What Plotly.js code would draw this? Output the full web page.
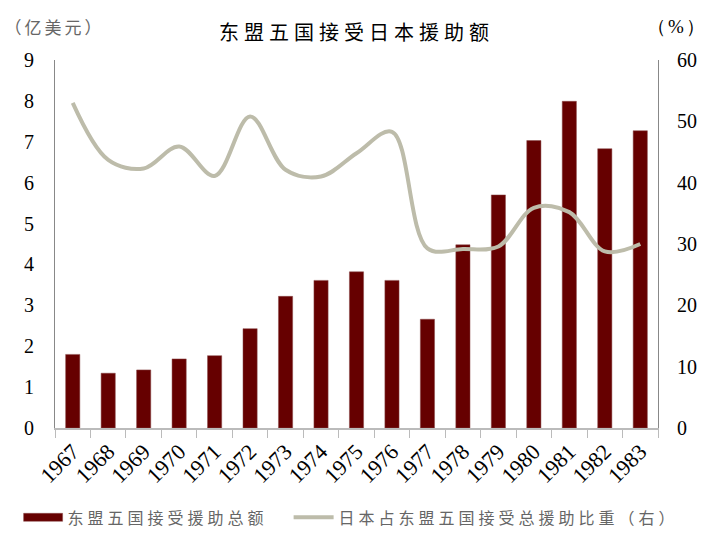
<!DOCTYPE html>
<html>
<head>
<meta charset="utf-8">
<script src="https://cdn.plot.ly/plotly-3.0.1.min.js"></script>
<style>html,body{margin:0;padding:0;background:#fff;}#chart{width:706px;height:549px;}</style>
</head>
<body>
<div id="chart"></div>
<script>
const years = ['1967','1968','1969','1970','1971','1972','1973','1974','1975','1976','1977','1978','1979','1980','1981','1982','1983'];
const aidTotal = [1.80,1.34,1.42,1.69,1.77,2.43,3.22,3.61,3.82,3.61,2.66,4.48,5.70,7.03,7.99,6.83,7.27];
const japanShare = [53.0,43.7,42.3,45.9,41.1,50.8,42.1,41.0,44.8,48.3,29.3,29.2,29.6,35.9,35.2,28.8,30.0];
const leftTicks = [0,1,2,3,4,5,6,7,8,9];
const rightTicks = [0,10,20,30,40,50,60];

const cjk = '"Noto Sans CJK SC", "Noto Sans", sans-serif';
const serif = '"Liberation Serif", "DejaVu Serif", serif';

const data = [
  {type:'bar', x:years, y:aidTotal, name:'东盟五国接受援助总额',
   marker:{color:'#660000', line:{color:'#8a4a4a', width:0.5}}, width:0.4},
  {type:'scatter', mode:'lines', x:years, y:japanShare, yaxis:'y2',
   name:'日本占东盟五国接受总援助比重（右）',
   line:{color:'#BDBCAA', width:4, shape:'spline', smoothing:1}}
];

const legFont = {family:cjk, size:16, color:'#666'};
const layout = {
  width:706, height:549,
  margin:{l:55, r:48, t:60, b:121},
  paper_bgcolor:'#fff', plot_bgcolor:'#fff',
  showlegend:true,
  legend:{orientation:'h', x:-0.062, xanchor:'left', y:-0.243, yanchor:'middle',
          font:legFont, itemwidth:40, entrywidth:216, entrywidthmode:'pixels', bgcolor:'rgba(0,0,0,0)'},
  xaxis:{type:'category', showline:true, linecolor:'#bbbbbb', linewidth:2,
         ticks:'outside', tickson:'boundaries', ticklen:8, tickcolor:'#bbbbbb', tickwidth:1,
         tickangle:-45, tickfont:{family:serif, size:22, color:'#000'}, showgrid:false, zeroline:false},
  yaxis:{range:[0,9], tickvals:leftTicks, showline:true, linecolor:'#888', linewidth:1,
         ticks:'', showgrid:false, zeroline:false, tickfont:{family:serif, size:20, color:'#000'}, ticklabelstandoff:16},
  yaxis2:{range:[0,60], tickvals:rightTicks, overlaying:'y', side:'right', showline:true, linecolor:'#888', linewidth:1,
          ticks:'', showgrid:false, zeroline:false, tickfont:{family:serif, size:20, color:'#000'}, ticklabelstandoff:14},
  title:{text:'东盟五国接受日本援助额', x:0.5, xref:'paper', y:0.94, yref:'container', yanchor:'middle',
         font:{family:cjk, size:20, color:'#000'}},
  annotations:[
    {text:'（亿美元）', xref:'paper', yref:'paper', x:-0.075, y:1.09, xanchor:'left', yanchor:'middle', showarrow:false,
     font:{family:cjk, size:17, color:'#666'}},
    {text:'（%）', xref:'paper', yref:'paper', x:1.08, y:1.09, xanchor:'right', yanchor:'middle', showarrow:false,
     font:{family:serif, size:19, color:'#000'}}
  ]
};

function restyleText(gd){
  const t = gd.querySelector('.gtitle');
  if (t) t.setAttribute('letter-spacing', '5px');
  gd.querySelectorAll('.legendtext').forEach(function(el){ el.setAttribute('letter-spacing','4px'); });
  gd.querySelectorAll('g.legend [clip-path]').forEach(function(el){ el.removeAttribute('clip-path'); });
  gd.querySelectorAll('.legendpoints path').forEach(function(p){
    if ((p.getAttribute('d')||'').indexOf('H') >= 0) p.setAttribute('d','M20,4H-19V-4H20Z');
  });
  gd.querySelectorAll('.annotation-text').forEach(function(el){
    el.setAttribute('letter-spacing', el.textContent.indexOf('%') >= 0 ? '2px' : '3px');
  });
}

const gdEl = document.getElementById('chart');
Plotly.newPlot(gdEl, data, layout, {displayModeBar:false, staticPlot:true}).then(function(gd){
  restyleText(gd);
  gd.on('plotly_afterplot', function(){ restyleText(gd); });
  setTimeout(function(){ restyleText(gd); }, 0);
  setTimeout(function(){ restyleText(gd); }, 100);
});
</script>
</body>
</html>
